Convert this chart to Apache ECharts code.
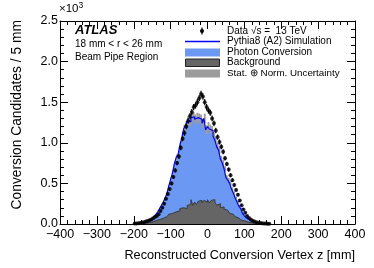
<!DOCTYPE html>
<html>
<head>
<meta charset="utf-8">
<script src="https://cdn.jsdelivr.net/npm/echarts@6/dist/echarts.min.js"></script>
<style>
html,body{margin:0;padding:0;background:#fff;}
#chart{width:374px;height:268px;}
</style>
</head>
<body>
<div id="chart"></div>
<script>
// Bin low edges (mm), 5 mm bins
const binLow = [-200,-195,-190,-185,-180,-175,-170,-165,-160,-155,-150,-145,-140,-135,-130,-125,-120,-115,-110,-105,-100,-95,-90,-85,-80,-75,-70,-65,-60,-55,-50,-45,-40,-35,-30,-25,-20,-15,-10,-5,0,5,10,15,20,25,30,35,40,45,50,55,60,65,70,75,80,85,90,95,100,105,110,115,120,125,130,135,140,145,150,155,160,165];
const binWidth = 5;
// Total MC (Pythia8 simulation), candidates per bin
const mcTotal = [5,8,10,15,20,25,35,40,50,60,75,90,120,150,190,230,270,320,380,470,550,630,740,820,850,970,1050,1170,1210,1270,1260,1310,1320,1290,1310,1300,1290,1240,1300,1160,1200,1170,1150,1080,1030,950,910,800,750,680,570,540,500,430,380,320,270,220,190,130,100,75,55,40,30,22,17,13,10,8,5,4,3,2];
// Background component
const background = [2,3,4,5,7,9,12,15,20,25,30,40,45,55,60,70,80,90,110,120,130,140,150,170,160,190,200,210,190,230,240,300,230,270,240,280,290,260,290,270,300,260,290,300,270,230,250,200,210,180,170,150,130,120,100,90,75,60,50,40,30,25,20,15,12,10,8,6,5,4,3,2,2,1];
// Stat. + norm. uncertainty (half width) on total MC
const mcUnc = [2,2,3,3,4,4,5,5,6,6,7,8,9,10,12,14,16,18,20,24,28,32,36,40,42,46,50,55,56,58,58,60,60,60,60,60,60,58,60,55,56,55,54,52,50,47,45,40,38,35,30,28,26,23,20,18,16,14,12,10,8,7,6,5,4,3,3,2,2,2,2,1,1,1];
// Data (sqrt(s)=13 TeV)
const dataVals = [5,7,10,12,18,22,30,37,45,55,70,85,100,120,160,200,250,310,370,430,500,580,660,750,830,940,1050,1120,1200,1270,1330,1380,1440,1460,1500,1550,1600,1570,1500,1440,1400,1370,1300,1240,1150,1070,1010,950,890,810,740,670,600,540,480,420,360,290,230,180,140,100,75,55,40,30,22,16,12,9,6,5,4,3];

const FONT = 'Liberation Sans, Arial, Helvetica, sans-serif';

function stepData(vals){
  const d = binLow.map((lo,i)=>[lo, vals[i]]);
  d.push([binLow[binLow.length-1]+binWidth, vals[vals.length-1]]);
  return d;
}
const centers = binLow.map(lo=>lo+binWidth/2);
const dataPts = centers.map((c,i)=>[c, dataVals[i]]);
const bandPts = binLow.map((lo,i)=>[lo, lo+binWidth, mcTotal[i]-mcUnc[i], mcTotal[i]+mcUnc[i]]);
const errPts = centers.map((c,i)=>[c, dataVals[i]-Math.sqrt(dataVals[i]), dataVals[i]+Math.sqrt(dataVals[i])]);

const minusFmt = v => String(v).replace('-', '\u2212');

const chart = echarts.init(document.getElementById('chart'), null, {renderer:'canvas'});
const axisLineStyle = {color:'#000', width:1};
const option = {
  animation:false,
  backgroundColor:'#fff',
  grid:{left:60, right:19, top:21, bottom:44, show:false},
  xAxis:[{
    type:'value', min:-400, max:400, interval:100, position:'bottom',
    axisLine:{show:true, onZero:false, lineStyle:axisLineStyle},
    axisTick:{show:true, inside:true, length:8, lineStyle:axisLineStyle},
    minorTick:{show:true, splitNumber:5, length:4, lineStyle:axisLineStyle},
    splitLine:{show:false},
    axisLabel:{color:'#000', fontSize:12.5, fontFamily:FONT, margin:4, formatter:minusFmt}
  },{
    type:'value', min:-400, max:400, interval:100, position:'top',
    axisLine:{show:true, onZero:false, lineStyle:axisLineStyle},
    axisTick:{show:true, inside:true, length:8, lineStyle:axisLineStyle},
    minorTick:{show:true, splitNumber:5, length:4, lineStyle:axisLineStyle},
    splitLine:{show:false},
    axisLabel:{show:false}
  }],
  yAxis:[{
    type:'value', min:0, max:2500, interval:500, position:'left',
    axisLine:{show:true, onZero:false, lineStyle:axisLineStyle},
    axisTick:{show:true, inside:true, length:8, lineStyle:axisLineStyle},
    minorTick:{show:true, splitNumber:5, length:4, lineStyle:axisLineStyle},
    splitLine:{show:false},
    axisLabel:{color:'#000', fontSize:12.5, fontFamily:FONT, margin:2, formatter:v=>(v/1000).toFixed(1)}
  },{
    type:'value', min:0, max:2500, interval:500, position:'right',
    axisLine:{show:true, onZero:false, lineStyle:axisLineStyle},
    axisTick:{show:true, inside:true, length:8, lineStyle:axisLineStyle},
    minorTick:{show:true, splitNumber:5, length:4, lineStyle:axisLineStyle},
    splitLine:{show:false},
    axisLabel:{show:false}
  }],
  series:[
    {
      name:'Photon Conversion', type:'line', step:'end', data:stepData(mcTotal),
      showSymbol:false, symbol:'none', lineStyle:{width:0, color:'#6a98f3'},
      areaStyle:{color:'#6a98f3', opacity:1}, z:1, silent:true
    },
    {
      name:'Stat. \u2295 Norm. Uncertainty', type:'custom', data:bandPts, z:2, silent:true,
      renderItem:(params, api)=>{
        const p1 = api.coord([api.value(0), api.value(3)]);
        const p2 = api.coord([api.value(1), api.value(2)]);
        return {type:'rect', shape:{x:p1[0], y:p1[1], width:p2[0]-p1[0], height:p2[1]-p1[1]},
          style:{fill:'#9c9c9c'}};
      },
      encode:{x:[0,1], y:[2,3]}
    },
    {
      name:'Pythia8 (A2) Simulation', type:'line', step:'end', data:stepData(mcTotal),
      showSymbol:false, symbol:'none', lineStyle:{width:1.2, color:'#0000ff'}, z:3, silent:true
    },
    {
      name:'Background', type:'line', step:'end', data:stepData(background),
      showSymbol:false, symbol:'none', lineStyle:{width:1, color:'#3a3a3a'},
      areaStyle:{color:'#656565', opacity:1}, z:4, silent:true
    },
    {
      name:'Data err', type:'custom', data:errPts, z:5, silent:true,
      renderItem:(params, api)=>{
        const a = api.coord([api.value(0), api.value(1)]);
        const b = api.coord([api.value(0), api.value(2)]);
        return {type:'line', shape:{x1:a[0], y1:a[1], x2:b[0], y2:b[1]}, style:{stroke:'#000', lineWidth:1.2}};
      },
      encode:{x:0, y:[1,2]}
    },
    {
      name:'Data', type:'scatter', data:dataPts, symbol:'circle', symbolSize:4,
      itemStyle:{color:'#000'}, z:6, silent:true
    }
  ],
  graphic:[
    {type:'text', x:59, y:9, style:{text:'{a|\u00d710}{b|3}', rich:{a:{fontSize:11.5, fontFamily:FONT, fill:'#000'}, b:{fontSize:8.5, fontFamily:FONT, fill:'#000', verticalAlign:'top', padding:[0,0,6,0]}}, verticalAlign:'middle', fill:'#000'}},
    {type:'text', x:17, y:20, rotation:Math.PI/2, style:{text:'Conversion Candidates / 5 mm', fontSize:13.8, fontFamily:FONT, fill:'#000', align:'right', verticalAlign:'middle'}},
    {type:'text', x:355, y:255, style:{text:'Reconstructed Conversion Vertex z [mm]', fontSize:12.7, fontFamily:FONT, fill:'#000', align:'right', verticalAlign:'middle'}},
    {type:'text', x:75, y:30, style:{text:'ATLAS', fontSize:13, fontWeight:'bold', fontStyle:'italic', fontFamily:FONT, fill:'#000', align:'left', verticalAlign:'middle'}},
    {type:'text', x:75, y:44, style:{text:'18 mm < r < 26 mm', fontSize:10, fontFamily:FONT, fill:'#000', align:'left', verticalAlign:'middle'}},
    {type:'text', x:75, y:57.5, style:{text:'Beam Pipe Region', fontSize:10, fontFamily:FONT, fill:'#000', align:'left', verticalAlign:'middle'}},
    // legend
    {type:'line', shape:{x1:202, y1:27.5, x2:202, y2:34.5}, style:{stroke:'#000', lineWidth:1.2}},
    {type:'circle', shape:{cx:202, cy:31, r:2}, style:{fill:'#000'}},
    {type:'text', x:227, y:31, style:{text:'Data \u221As =  13 TeV', fontSize:10, fontFamily:FONT, fill:'#000', align:'left', verticalAlign:'middle'}},
    {type:'line', shape:{x1:185, y1:41.5, x2:220, y2:41.5}, style:{stroke:'#0000ff', lineWidth:1.3}},
    {type:'text', x:227, y:41.5, style:{text:'Pythia8 (A2) Simulation', fontSize:10, fontFamily:FONT, fill:'#000', align:'left', verticalAlign:'middle'}},
    {type:'rect', shape:{x:185, y:48.5, width:35, height:8}, style:{fill:'#6a98f3'}},
    {type:'text', x:227, y:52, style:{text:'Photon Conversion', fontSize:10, fontFamily:FONT, fill:'#000', align:'left', verticalAlign:'middle'}},
    {type:'rect', shape:{x:185.5, y:59, width:34, height:7.5}, style:{fill:'#656565', stroke:'#222', lineWidth:1}},
    {type:'text', x:227, y:62.5, style:{text:'Background', fontSize:10, fontFamily:FONT, fill:'#000', align:'left', verticalAlign:'middle'}},
    {type:'rect', shape:{x:185, y:69.5, width:35, height:8}, style:{fill:'#9c9c9c'}},
    {type:'text', x:227, y:73, style:{text:'Stat. \u2295 Norm. Uncertainty', fontSize:9.8, fontFamily:FONT, fill:'#000', align:'left', verticalAlign:'middle'}}
  ]
};
chart.setOption(option);
</script>
</body>
</html>
